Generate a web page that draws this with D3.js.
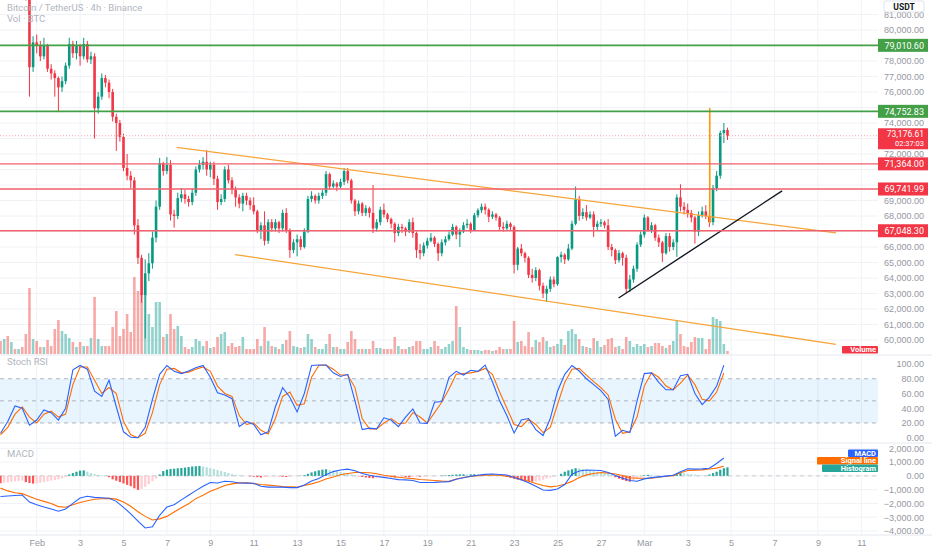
<!DOCTYPE html>
<html>
<head>
<meta charset="utf-8">
<script src="https://cdn.jsdelivr.net/npm/d3@7"></script>
<style>
  body { margin: 0; background: #fff; }
  svg { display: block; font-family: Roboto, "Noto Sans", sans-serif; }
</style>
</head>
<body>
<div id="chart"></div>
<script>
// ---- data (BTCUSDT 4h, one entry per bar) ----
const firstBar = "2026-01-30T08:00:00Z";
const barHours = 4;
const firstOpen = 84000;

const closes = [
    83900, 84100, 83700, 83900, 83400, 83600, 83100, 82500, 77600, 79200,
    79000, 78300, 79000, 77500, 77200, 76900, 76300, 76700, 77700, 79100,
    78500, 79000, 78300, 79100, 78100, 78300, 74950, 75700, 76900, 76600,
    76000, 74400, 74000, 73100, 71100, 70600, 70300, 67400, 65300, 62900,
    64300, 64950, 66600, 68600, 71400, 70900, 71300, 68100, 68000, 69150,
    69400, 69100, 68900, 69500, 71000, 71300, 71500, 71000, 71300, 70400,
    68900, 69100, 71000, 70300, 69700, 69200, 68800, 69300, 69000, 68700,
    68300, 67100, 67400, 66400, 67600, 67200, 67600, 67200, 68200, 67100,
    65800, 66300, 66500, 66000, 67000, 69100, 69300, 69000, 69300, 69500,
    70700, 69900, 70100, 69900, 70200, 70900, 70300, 69000, 68300, 68800,
    68200, 68500, 68200, 67200, 67600, 68400, 68100, 67800, 67500, 66900,
    67300, 67200, 67000, 67600, 66900, 65800, 65600, 66100, 66400, 66600,
    66200, 65600, 66300, 66500, 66800, 67300, 66800, 67000, 67400, 67500,
    67100, 68050, 68370, 68600, 68400, 67950, 68100, 67900, 67300, 67200,
    67500, 67300, 64850, 65900, 65600, 65300, 64200, 64000, 64500, 63500,
    63000, 63300, 63900, 63600, 65350, 65500, 65200, 65900, 67500, 69100,
    68000, 68250, 67900, 68100, 67300, 67500, 67600, 67400, 66000, 65800,
    65150, 65600, 65300, 63300, 63900, 64600, 66150, 66800, 67900, 67100,
    67400, 66600, 66300, 65600, 66700, 66000, 66300, 69200, 68600, 68400,
    68200, 67900, 67000, 68050, 68300, 68000, 67600, 69800, 70600, 73350,
    73550, 73176.61
];
const highs = [
    84300, 84400, 84200, 84100, 84000, 83800, 83700, 83200, 82700, 79600,
    79700, 79300, 79500, 79100, 77800, 77400, 77000, 77000, 77900, 79500,
    79300, 79300, 79100, 79500, 79300, 78600, 78500, 76000, 77200, 77100,
    76800, 76200, 74600, 74200, 73300, 72000, 70900, 70500, 67800, 65500,
    65200, 65600, 67000, 69000, 71750, 71500, 71800, 71600, 68400, 69500,
    69800, 69700, 69300, 69800, 71200, 71600, 71800, 72250, 71500, 71500,
    70600, 69400, 71200, 71300, 70500, 69900, 69400, 69500, 69500, 69200,
    69200, 68400, 67600, 68300, 67800, 67800, 67800, 67700, 68400, 68500,
    67200, 66500, 66800, 66700, 67200, 69300, 69600, 69400, 69500, 69700,
    70900, 70800, 70300, 70200, 70400, 71100, 71100, 70400, 69100, 69000,
    68900, 68700, 68600, 70000, 67800, 68600, 68800, 68200, 67900, 67600,
    67500, 67500, 67300, 67800, 67900, 67000, 66200, 66300, 66600, 66900,
    66700, 66300, 66500, 66700, 67000, 67500, 67400, 67200, 67600, 67800,
    67600, 68200, 68500, 68800, 68800, 68500, 68300, 68200, 68000, 67600,
    67700, 67600, 67400, 66000, 66200, 65700, 65400, 64600, 64700, 64600,
    63700, 63500, 64100, 64100, 65400, 65700, 65600, 66200, 67700, 69900,
    69300, 68500, 68700, 68300, 68300, 67700, 67800, 67700, 67800, 66200,
    65900, 65800, 65700, 65500, 64200, 64800, 66300, 67000, 68100, 68000,
    67600, 67500, 66800, 66400, 66900, 66900, 66500, 69400, 70050, 68900,
    68800, 68400, 68000, 68300, 68600, 68700, 68200, 70000, 70900, 73500,
    74000, 73700
];
const lows = [
    83500, 83700, 83400, 83300, 83100, 83000, 82700, 81900, 75700, 77300,
    78500, 78000, 78100, 77300, 76800, 75700, 74700, 76000, 76500, 77500,
    78200, 78100, 77700, 78100, 77900, 77800, 73000, 74600, 75500, 76300,
    75600, 74100, 72200, 72800, 70900, 70300, 69800, 66800, 64900, 62400,
    60100, 63800, 64600, 66300, 68400, 70600, 70700, 67700, 67250, 67800,
    68900, 68800, 68600, 68700, 69300, 70800, 71000, 70600, 70500, 70000,
    68400, 68700, 68900, 70100, 69400, 68600, 68500, 68300, 68700, 68400,
    68100, 66900, 66500, 66100, 66200, 67000, 67000, 66900, 67000, 66900,
    65300, 65600, 65400, 65800, 65900, 66900, 68900, 68800, 68800, 69100,
    69300, 69700, 69800, 69600, 69800, 70000, 70100, 68800, 68000, 68100,
    68000, 68000, 67900, 66900, 67000, 67400, 67900, 67600, 67200, 66300,
    66700, 66900, 66700, 66900, 66600, 65300, 65200, 65400, 65900, 66300,
    66000, 65100, 65400, 66100, 66400, 66700, 66500, 66000, 66900, 67200,
    66900, 67500, 67900, 68200, 68100, 67600, 67800, 67700, 67100, 67000,
    67100, 67100, 64300, 64500, 65400, 65000, 64000, 63700, 63800, 63200,
    62700, 62450, 63100, 63400, 63500, 65000, 64900, 65100, 65800, 67400,
    67700, 67800, 67700, 67800, 66650, 67100, 67300, 67200, 65800, 65400,
    64900, 65000, 64800, 63000, 63100, 63700, 64400, 66000, 66600, 67000,
    66900, 66400, 66000, 65040, 65500, 65700, 65800, 65360, 68300, 68100,
    67900, 67600, 66220, 66700, 67900, 67800, 67300, 67400, 69600, 70400,
    72700, 72900
];
// thousand BTC
const volumes = [
    7.8, 9, 10.8, 7.2, 3, 3, 4.2, 12, 39.6, 9,
    7.8, 4.2, 4.2, 8.4, 4.8, 15, 20.4, 13.8, 12, 9.6,
    7.2, 4.2, 7.2, 4.8, 4.8, 9.6, 34.2, 9, 4.8, 4.8,
    4.8, 16.2, 25.8, 10.8, 15, 24, 13.2, 46.2, 37.8, 36,
    43.2, 24, 16.2, 31.2, 31.2, 10.2, 12, 24, 15, 16.8,
    10.8, 4.2, 3, 4.2, 9, 7.8, 4.8, 7.8, 3.6, 4.2,
    10.2, 12, 13.2, 4.8, 6.6, 4.2, 4.8, 10.2, 3, 3,
    3, 9, 4.8, 16.2, 7.8, 4.8, 4.2, 3, 6, 8.4,
    13.8, 4.8, 4.2, 3.6, 4.2, 12, 9, 4.2, 3, 3,
    6, 12, 4.2, 4.2, 3, 3, 7.2, 13.8, 9, 3,
    3, 3, 3, 7.8, 3.6, 3.6, 3, 3, 3, 10.2,
    4.8, 3, 3, 4.2, 4.8, 7.8, 7.8, 3, 3, 4.2,
    7.8, 4.8, 3, 4.2, 6, 7.8, 28.8, 16.2, 4.2, 3,
    2.4, 2.4, 2.4, 1.8, 2.4, 2.4, 1.8, 2.4, 4.2, 3,
    3, 3, 19.8, 7.2, 7.8, 4.8, 13.2, 4.2, 8.4, 7.2,
    10.2, 7.8, 4.2, 4.8, 6, 9, 5.4, 13.8, 15, 12,
    9, 4.8, 4.2, 3.6, 9.6, 7.8, 4.2, 5.4, 9, 9.6,
    4.2, 4.8, 3, 10.2, 7.8, 4.2, 6, 4.8, 6, 4.2,
    4.8, 6.6, 6.6, 4.8, 3.6, 5.4, 7.8, 19.8, 12, 4.8,
    4.2, 7.2, 10.2, 9.6, 9.6, 3, 9, 22.2, 21, 19.8,
    6, 1.8
];

// indicator lines read every 2nd bar, starting at the first bar
const oscStep = 2;
const stochK = [
    6, 22, 43, 40, 17, 24, 37.6, 34, 24, 40,
    92, 98, 93, 63, 56, 78, 42, 8, 0.5, 0,
    14, 52, 86, 98, 90, 87, 90.5, 95, 98, 82,
    61, 58, 53, 15, 22, 18, 4, 8, 42, 68,
    55, 35, 60, 98, 98.6, 98.6, 88, 83, 86, 50,
    11, 13, 12, 27, 24, 15, 28, 39, 20, 19.5,
    48, 49, 82, 90, 85, 91.5, 90, 98.5, 76, 50,
    30, 6.5, 24, 26, 11, 3, 26, 63, 86, 98,
    90.5, 80, 72, 64, 52, 2, 10, 7, 50, 87,
    88, 75, 65, 65, 84, 86, 60, 45, 55, 70,
    98.5
];
const stochD = [
    4, 14, 32, 42, 28, 20, 32, 36, 28, 32,
    72, 96, 96, 78, 60, 68, 60, 22, 4, 0,
    6, 34, 72, 93, 94, 88, 89, 93, 96, 90,
    70, 60, 56, 30, 18, 20, 10, 5, 26, 56,
    62, 44, 46, 82, 98, 98.6, 93, 85, 85, 68,
    26, 12, 12, 20, 26, 19, 20, 34, 28, 20,
    34, 48, 66, 86, 87, 88, 90, 94, 86, 62,
    40, 18, 15, 25, 18, 7, 14, 45, 75, 93,
    94, 85, 76, 68, 58, 25, 6, 8, 28, 70,
    88, 82, 70, 65, 74, 85, 72, 52, 50, 62,
    88
];
const macdLine = [
    -1500, -1460, -1420, -1390, -1900, -2090, -2260, -2400, -2560, -2400,
    -2000, -1610, -1480, -1560, -1590, -1620, -1850, -2280, -2760, -3280,
    -3780, -3700, -2860, -2260, -2090, -1740, -1410, -1070, -760, -480,
    -520, -390, -430, -520, -530, -540, -750, -820, -820, -820,
    -850, -850, -660, -370, -190, 90, 310, 420, 490, 370,
    170, 40, -50, -110, -190, -270, -290, -340, -480, -480,
    -475, -445, -415, -240, -140, -30, 40, 110, 130, 100,
    60, -120, -280, -500, -760, -1020, -1050, -950, -630, 120,
    350, 420, 410, 390, 250, 20, -170, -340, -390, -220,
    -130, -70, -20, 40, 300, 520, 490, 510, 550, 900,
    1300
];
const signalLine = [
    -890, -1090, -1230, -1290, -1490, -1690, -1850, -2010, -2230, -2280,
    -2100, -1930, -1810, -1700, -1660, -1630, -1690, -1900, -2200, -2600,
    -2940, -3200, -3120, -2940, -2620, -2310, -2020, -1650, -1400, -1120,
    -910, -700, -580, -510, -510, -560, -630, -670, -720, -780,
    -800, -820, -700, -580, -420, -230, -80, 80, 170, 240,
    240, 230, 150, 40, -30, -100, -150, -200, -260, -300,
    -340, -380, -400, -230, -120, -50, 20, 50, 60, 40,
    -20, -100, -260, -390, -560, -700, -800, -730, -610, -400,
    -120, 70, 170, 240, 200, 140, 30, -140, -170, -170,
    -170, -100, -30, 20, 230, 390, 420, 435, 500, 560,
    700
];
// MACD histogram, one per bar
const histogram = [
    -530, -500, -470, -440, -400, -370, -340,
    -450, -520, -560, -540,
    -500, -450, -400, -350, -300, -250, -180, -100,
    100, 200, 300, 380, 400,
    300, 200, 120, 80, 50, 30,
    -100, -250, -350, -450, -550, -650, -750, -900, -1020,
    -950, -800, -600, -400, -200,
    100, 350, 450, 500, 520, 550, 570, 600,
    640, 680, 700, 720,
    680, 620, 560, 500, 420, 350, 280, 200, 130, 80, 40,
    20, 0, -30, -60, -90,
    -120, -100, -60, -40, -20,
    -30, -60, -80, -50, -30,
    -10, 20, 60,
    150, 250, 330, 400, 450, 480,
    420, 380, 330, 280, 230, 180,
    100, 40, -30, -80,
    -120, -150, -170, -160, -130, -100,
    -80, -100, -120, -90, -60, -80, -100, -70, -50,
    -60, -50, -40, -30, -20,
    0, 20, 40, 60,
    80, 100, 110, 120, 100, 110, 120, 110,
    100, 80, 60, 40,
    20, 0, -20,
    -80, -150, -220, -280, -330, -370, -400, -420, -410,
    -350, -280, -200, -120,
    -60, 0, 150, 300,
    400, 480, 560, 540, 500,
    450, 400, 350, 300, 250, 200, 150, 60,
    -100, -200, -300, -380, -420,
    -300, -200, -100,
    50, 80, 60, 40,
    20, 10, 0, 20,
    80, 150, 200, 180,
    150, 120, 90, 60, 40, 30,
    100, 200, 300, 450, 550, 620
];

// horizontal levels and drawn lines
const greenLevels = [79010.60, 74752.83];
const redLevels = [71364.00, 69741.99, 67048.30];
const lastPrice = 73176.61;
const countdown = "02:37:03";
const channelTop = [["2026-02-07T10:48:00Z", 72425], ["2026-03-09T20:00:00Z", 66910]];
const channelBottom = [["2026-02-10T03:12:00Z", 65515], ["2026-03-09T20:00:00Z", 59722]];
const supportLine = [["2026-02-27T19:36:00Z", 62712], ["2026-03-07T08:24:00Z", 69622]];
const spikeLine = [["2026-03-04T00:24:00Z", 74963], ["2026-03-04T00:24:00Z", 67536]];

// axis ticks
const priceTicks = [60000, 61000, 62000, 63000, 64000, 65000, 66000, 67000, 68000, 69000, 70000,
    71000, 72000, 73000, 74000, 75000, 76000, 77000, 78000, 79000, 80000, 81000];
const stochTicks = [0, 20, 40, 60, 80, 100];
const stochBands = [80, 50, 20];
const macdTicks = [-4000, -3000, -2000, -1000, 0, 1000, 2000];
const dateTicks = ["2026-02-01", "2026-02-03", "2026-02-05", "2026-02-07", "2026-02-09", "2026-02-11",
    "2026-02-13", "2026-02-15", "2026-02-17", "2026-02-19", "2026-02-21", "2026-02-23", "2026-02-25",
    "2026-02-27", "2026-03-01", "2026-03-03", "2026-03-05", "2026-03-07", "2026-03-09", "2026-03-11"];

// ---- layout ----
const width = 932, height = 550;
const plotRight = 878;
const mainPane = { top: 0, bottom: 355 },
    stochPane = { top: 355, bottom: 443 },
    macdPane = { top: 443, bottom: 535 };

const upColour = "#089981", downColour = "#f23645";
const textColour = "#9598a1", gridColour = "#f0f2f6";

const t0 = d3.isoParse(firstBar);
const barTime = i => new Date(t0.getTime() + i * barHours * 3600e3);

const bars = closes.map((c, i) => {
    const o = i === 0 ? firstOpen : closes[i - 1];
    return {
        t: barTime(i), o, c,
        h: Math.max(highs[i], o, c),
        l: Math.min(lows[i], o, c),
        v: volumes[i]
    };
});

const x = d3.scaleUtc()
    .domain([d3.isoParse("2026-02-01T00:00:00Z"), d3.isoParse("2026-03-11T00:00:00Z")])
    .range([36.7, 861.3]);
const yPrice = d3.scaleLinear().domain([60000, 80000]).range([340, 30]);
const yVol = d3.scaleLinear().domain([0, 60]).range([354, 254]);
const yStoch = d3.scaleLinear().domain([0, 100]).range([437.7, 364]);
const yMacd = d3.scaleLinear().domain([-4000, 2000]).range([531, 448.3]);

const svg = d3.select("#chart").append("svg")
    .attr("width", width)
    .attr("height", height)
    .style("background", "#fff");

const defs = svg.append("defs");
[["clip-main", mainPane], ["clip-stoch", stochPane], ["clip-macd", macdPane]].forEach(([id, p]) => {
    defs.append("clipPath").attr("id", id)
        .append("rect").attr("x", 0).attr("y", p.top)
        .attr("width", plotRight).attr("height", p.bottom - p.top);
});

// grid
const grid = svg.append("g");
dateTicks.forEach(d => {
    grid.append("line")
        .attr("x1", x(d3.isoParse(d))).attr("x2", x(d3.isoParse(d)))
        .attr("y1", 0).attr("y2", macdPane.bottom)
        .attr("stroke", gridColour);
});
priceTicks.forEach(p => {
    grid.append("line")
        .attr("x1", 0).attr("x2", plotRight)
        .attr("y1", yPrice(p)).attr("y2", yPrice(p))
        .attr("stroke", gridColour);
});
macdTicks.forEach(v => {
    grid.append("line")
        .attr("x1", 0).attr("x2", plotRight)
        .attr("y1", yMacd(v)).attr("y2", yMacd(v))
        .attr("stroke", gridColour);
});
[mainPane.bottom, stochPane.bottom, macdPane.bottom].forEach(yy => {
    grid.append("line")
        .attr("x1", 0).attr("x2", width)
        .attr("y1", yy).attr("y2", yy)
        .attr("stroke", "#e6e8ee");
});

// ---- main pane ----
const main = svg.append("g").attr("clip-path", "url(#clip-main)");

main.selectAll(".vol")
    .data(bars)
    .join("rect")
    .attr("x", d => x(d.t) - 1.3)
    .attr("width", 2.6)
    .attr("y", d => yVol(d.v))
    .attr("height", d => yVol(0) - yVol(d.v))
    .attr("fill", d => d.c >= d.o ? "rgba(38,166,154,0.5)" : "rgba(239,83,80,0.5)");

const candles = main.selectAll(".candle")
    .data(bars)
    .join("g")
    .attr("fill", d => d.c >= d.o ? upColour : downColour)
    .attr("stroke", d => d.c >= d.o ? upColour : downColour);

candles.append("line")
    .attr("x1", d => x(d.t)).attr("x2", d => x(d.t))
    .attr("y1", d => yPrice(d.h)).attr("y2", d => yPrice(d.l))
    .attr("stroke-width", 1);

candles.append("rect")
    .attr("x", d => x(d.t) - 1.3)
    .attr("width", 2.6)
    .attr("y", d => yPrice(Math.max(d.o, d.c)))
    .attr("height", d => Math.max(1, Math.abs(yPrice(d.o) - yPrice(d.c))))
    .attr("stroke", "none");

const drawLine = d3.line()
    .x(d => x(d3.isoParse(d[0])))
    .y(d => yPrice(d[1]));

[[channelTop, "#f5a53a", 1.3], [channelBottom, "#f5a53a", 1.3],
 [supportLine, "#131722", 1.4], [spikeLine, "#ff9800", 1.6]].forEach(([pts, col, w]) => {
    main.append("path")
        .attr("d", drawLine(pts))
        .attr("fill", "none")
        .attr("stroke", col)
        .attr("stroke-width", w);
});

// horizontal levels
greenLevels.forEach(p => {
    svg.append("line")
        .attr("x1", 0).attr("x2", plotRight)
        .attr("y1", yPrice(p)).attr("y2", yPrice(p))
        .attr("stroke", "#43a047").attr("stroke-width", 1.8);
});
redLevels.forEach(p => {
    svg.append("line")
        .attr("x1", 0).attr("x2", plotRight)
        .attr("y1", yPrice(p)).attr("y2", yPrice(p))
        .attr("stroke", "#f0616d").attr("stroke-width", 1.4);
});
svg.append("line")
    .attr("x1", 0).attr("x2", plotRight)
    .attr("y1", yPrice(lastPrice)).attr("y2", yPrice(lastPrice))
    .attr("stroke", "#f7a1a8").attr("stroke-width", 1)
    .attr("stroke-dasharray", "1,2");

// top-left legend
svg.append("text").attr("x", 7).attr("y", 11)
    .attr("fill", "#b2b5be").style("font-size", "9.5px")
    .text("Bitcoin / TetherUS · 4h · Binance");
svg.append("text").attr("x", 7).attr("y", 22)
    .attr("fill", "#b2b5be").style("font-size", "9.5px")
    .text("Vol · BTC");

// ---- stoch RSI pane ----
const stoch = svg.append("g").attr("clip-path", "url(#clip-stoch)");
stoch.append("rect")
    .attr("x", 0).attr("width", plotRight)
    .attr("y", yStoch(80)).attr("height", yStoch(20) - yStoch(80))
    .attr("fill", "rgba(33,150,243,0.1)");
stochBands.forEach(v => {
    stoch.append("line")
        .attr("x1", 0).attr("x2", plotRight)
        .attr("y1", yStoch(v)).attr("y2", yStoch(v))
        .attr("stroke", "#b2b5be").attr("stroke-dasharray", "4,4");
});
const oscTime = j => barTime(j * oscStep);
const stochLine = d3.line().x((d, j) => x(oscTime(j))).y(d => yStoch(d));
stoch.append("path").attr("d", stochLine(stochD))
    .attr("fill", "none").attr("stroke", "#ff6d00").attr("stroke-width", 1.1);
stoch.append("path").attr("d", stochLine(stochK))
    .attr("fill", "none").attr("stroke", "#2962ff").attr("stroke-width", 1.1);
svg.append("text").attr("x", 7).attr("y", 365)
    .attr("fill", "#b2b5be").style("font-size", "9.5px").text("Stoch RSI");

// ---- MACD pane ----
const macd = svg.append("g").attr("clip-path", "url(#clip-macd)");
macd.append("line")
    .attr("x1", 0).attr("x2", plotRight)
    .attr("y1", yMacd(0)).attr("y2", yMacd(0))
    .attr("stroke", "#c9cbd1").attr("stroke-dasharray", "4,4");

const histColour = (v, i) => {
    const prev = i > 0 ? histogram[i - 1] : v;
    if (v >= 0) return v >= prev ? "#26a69a" : "#b2dfdb";
    return v <= prev ? "#ff5252" : "#ffcdd2";
};
macd.selectAll(".hist")
    .data(histogram)
    .join("rect")
    .attr("x", (d, i) => x(barTime(i)) - 1.1)
    .attr("width", 2.2)
    .attr("y", d => yMacd(Math.max(0, d)))
    .attr("height", d => Math.abs(yMacd(d) - yMacd(0)))
    .attr("fill", histColour);

const macdPath = d3.line().x((d, j) => x(oscTime(j))).y(d => yMacd(d));
macd.append("path").attr("d", macdPath(signalLine))
    .attr("fill", "none").attr("stroke", "#ff6d00").attr("stroke-width", 1.1);
macd.append("path").attr("d", macdPath(macdLine))
    .attr("fill", "none").attr("stroke", "#2962ff").attr("stroke-width", 1.1);
svg.append("text").attr("x", 7).attr("y", 457)
    .attr("fill", "#b2b5be").style("font-size", "9.5px").text("MACD");

// ---- right scales ----
const styleAxis = g => {
    g.select(".domain").remove();
    g.selectAll("text").attr("fill", textColour).style("font-size", "9px");
};
// like the platform, skip scale labels that sit under a price tag
const levelPrices = [...greenLevels, ...redLevels];
const shownPriceTicks = priceTicks.filter(p => {
    const yy = yPrice(p);
    const nearLevel = levelPrices.some(q => Math.abs(yy - yPrice(q)) < 9.5);
    const dLast = yy - yPrice(lastPrice);
    return !nearLevel && !(dLast > -10 && dLast < 15);
});
svg.append("g")
    .attr("transform", "translate(924,0)")
    .call(d3.axisLeft(yPrice).tickValues(shownPriceTicks).tickSize(0).tickPadding(0).tickFormat(d3.format(",.2f")))
    .call(styleAxis);
svg.append("g")
    .attr("transform", "translate(924,0)")
    .call(d3.axisLeft(yStoch).tickValues(stochTicks).tickSize(0).tickPadding(0).tickFormat(d3.format(".2f")))
    .call(styleAxis);
svg.append("g")
    .attr("transform", "translate(924,0)")
    .call(d3.axisLeft(yMacd).tickValues(macdTicks).tickSize(0).tickPadding(0).tickFormat(d3.format(",.2f")))
    .call(styleAxis);

// time axis
const fmtDay = d3.utcFormat("%-d"), fmtMonth = d3.utcFormat("%b");
svg.append("g")
    .attr("transform", `translate(0,${macdPane.bottom})`)
    .call(d3.axisBottom(x).tickValues(dateTicks.map(d3.isoParse)).tickSize(0).tickPadding(5)
        .tickFormat(d => d.getUTCDate() === 1 ? fmtMonth(d) : fmtDay(d)))
    .call(styleAxis);

// price labels on the scale
const priceTag = (p, fill, txt) => {
    const yy = yPrice(p);
    svg.append("rect").attr("x", plotRight).attr("y", yy - 6.5)
        .attr("width", 50).attr("height", 13).attr("fill", fill);
    svg.append("text").attr("x", 924).attr("y", yy + 3.2)
        .attr("text-anchor", "end").attr("fill", "#fff")
        .style("font-size", "9px").text(txt);
};
greenLevels.forEach(p => priceTag(p, "#43a047", d3.format(",.2f")(p)));
redLevels.forEach(p => priceTag(p, "#f23645", d3.format(",.2f")(p)));

// last price with bar countdown underneath
const lastY = yPrice(lastPrice);
svg.append("rect").attr("x", plotRight).attr("y", lastY - 7.5)
    .attr("width", 50).attr("height", 21).attr("fill", "#f23645");
svg.append("text").attr("x", 924).attr("y", lastY + 1.5)
    .attr("text-anchor", "end").attr("fill", "#fff").style("font-size", "8.5px")
    .text(d3.format(",.2f")(lastPrice));
svg.append("text").attr("x", 924).attr("y", lastY + 10.6)
    .attr("text-anchor", "end").attr("fill", "#fff").style("font-size", "7.5px")
    .text(countdown);

// USDT currency box
svg.append("rect").attr("x", 884).attr("y", 1).attr("width", 40).attr("height", 11)
    .attr("rx", 2).attr("fill", "#fff").attr("stroke", "#e0e3eb");
svg.append("text").attr("x", 904).attr("y", 9.5).attr("text-anchor", "middle")
    .attr("fill", "#131722").style("font-size", "8.5px").style("font-weight", "bold").text("USDT");

// small pane tags
const tag = (x0, y0, w, fill, txt) => {
    svg.append("rect").attr("x", x0).attr("y", y0).attr("width", w).attr("height", 7.5)
        .attr("rx", 1).attr("fill", fill);
    svg.append("text").attr("x", x0 + w - 2).attr("y", y0 + 6.3)
        .attr("text-anchor", "end").attr("fill", "#fff")
        .style("font-size", "7.5px").style("font-weight", "bold").text(txt);
};
tag(842, 346, 36, "#f23645", "Volume");
tag(848, 449.5, 30, "#2962ff", "MACD");
tag(817, 457, 61, "#ff6d00", "Signal line");
tag(822, 464.5, 56, "#26a69a", "Histogram");
</script>
</body>
</html>
